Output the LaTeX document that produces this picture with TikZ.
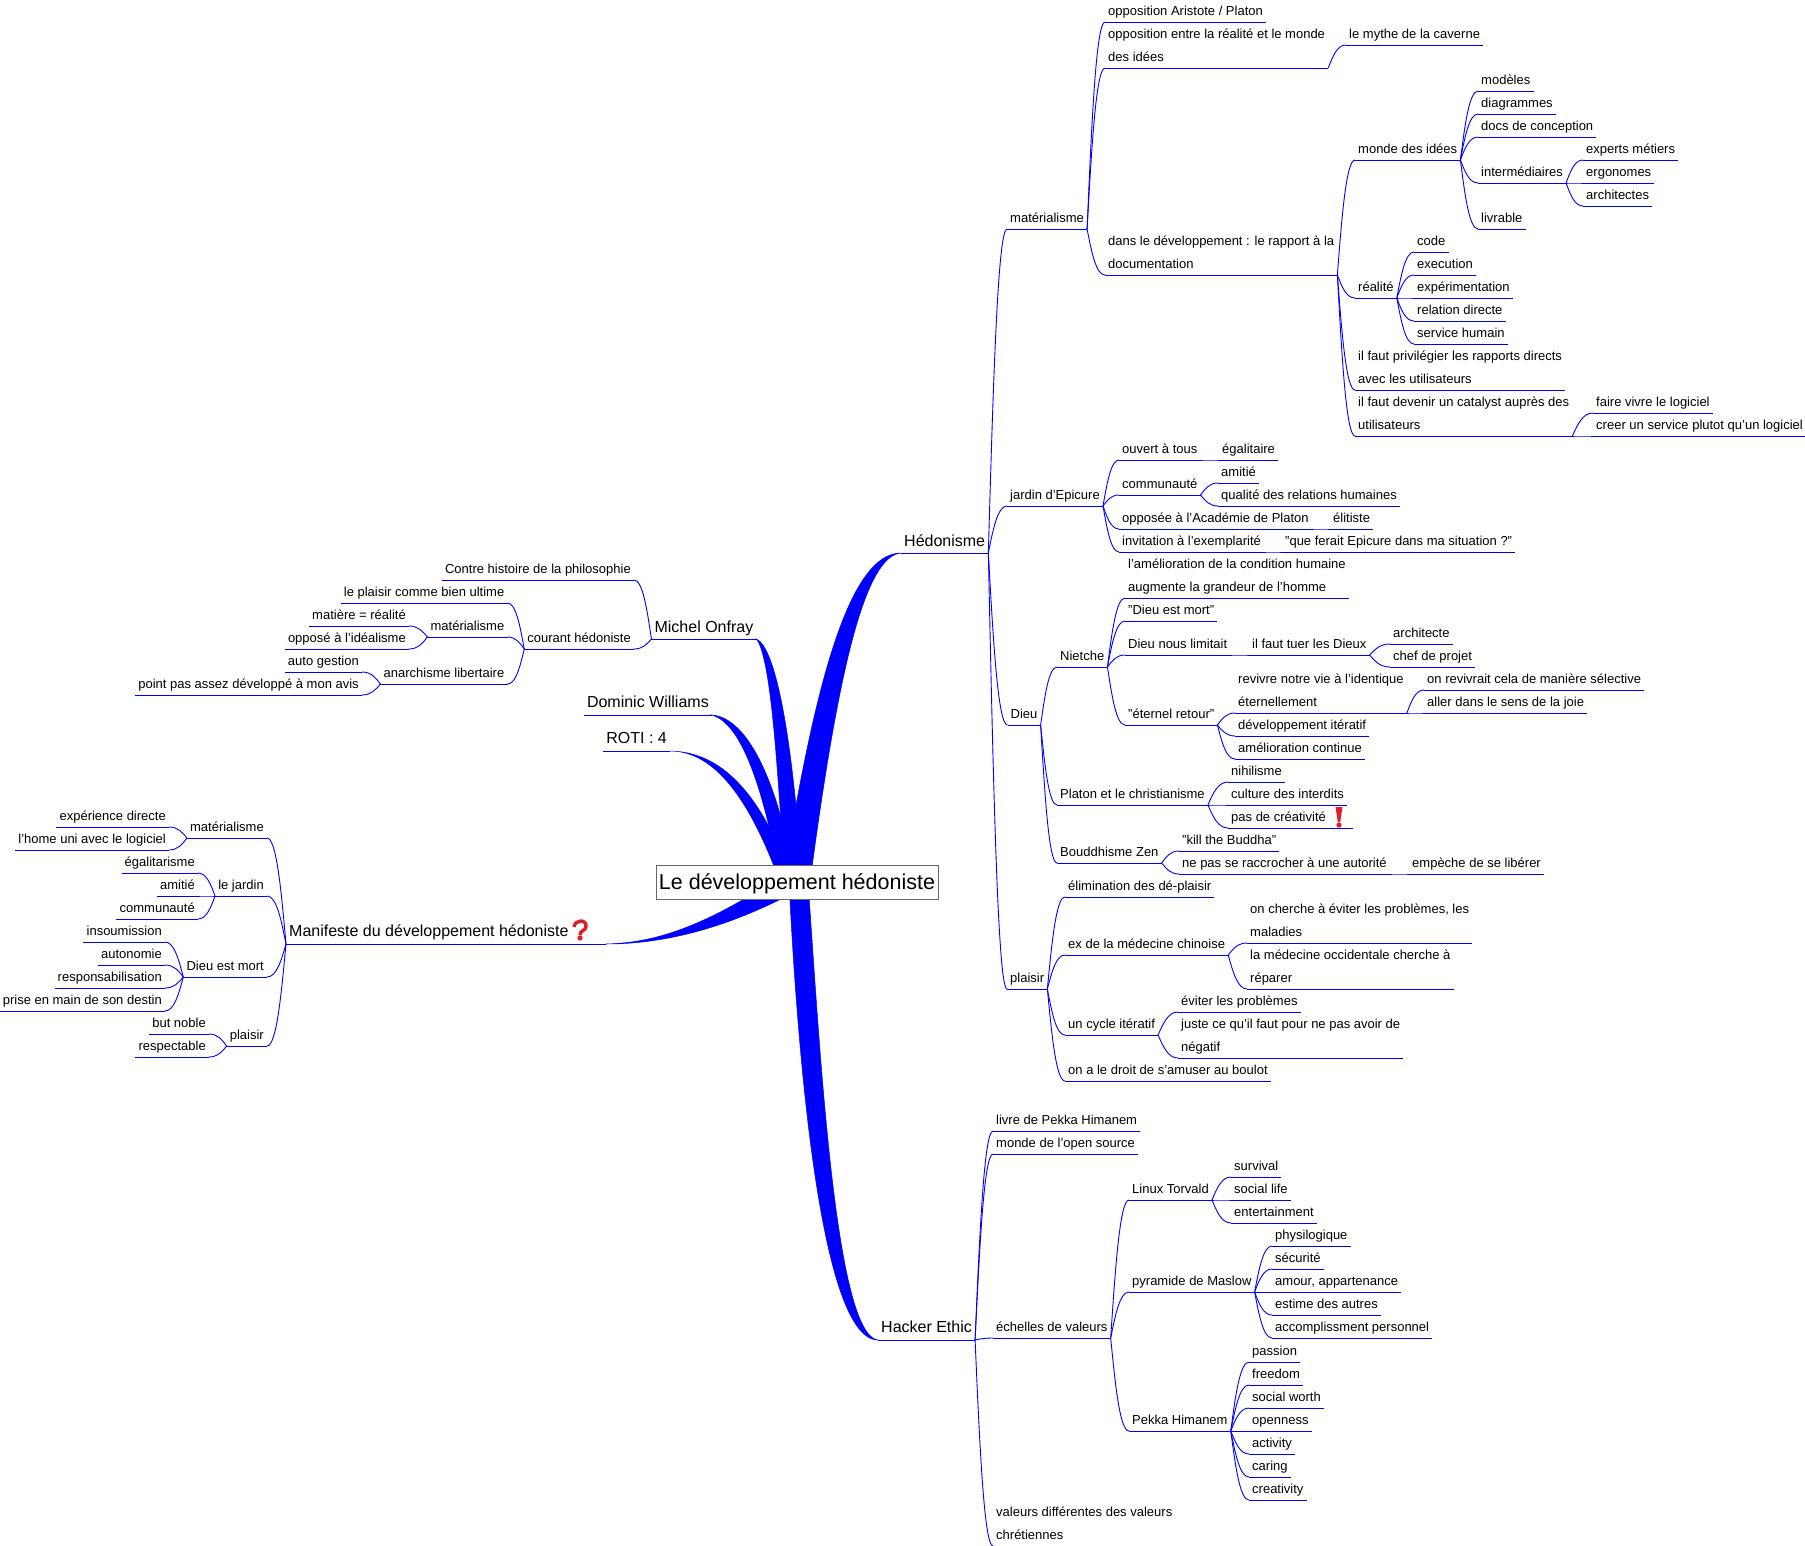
\documentclass[tikz,border=0pt]{standalone}
\usepackage{fontspec}
\setmainfont{Liberation Sans}
\usetikzlibrary{calc,backgrounds}

\definecolor{linkblue}{RGB}{0,0,255}
\definecolor{iconred}{RGB}{222,30,40}
\newcommand{\twolines}[2]{\vbox{\hbox{#1}\hbox{#2}}}

\tikzset{
  link/.style={draw=linkblue, line width=0.9pt},
  fork/.style={to path={let \p1=(\tikztostart), \p2=(\tikztotarget) in
    .. controls (0.75*\x1+0.25*\x2, 0.5*\y1+0.5*\y2) and (0.5*\x1+0.5*\x2, \y2) .. (\p2)}},
  topic/.style={anchor=south west, inner xsep=3pt, inner ysep=0pt, text depth=6pt,
    font=\fontsize{13}{23}\selectfont,
    append after command={(\tikzlastnode.south west) edge[link] (\tikzlastnode.south east)}},
  ltopic/.style={topic, anchor=south east},
  major/.style={text depth=7pt, font=\fontsize{16}{23}\selectfont},
  fatlink/.style={fill=linkblue, draw=linkblue, line width=0.5pt},
  iconmark/.style={fill=iconred}
}

\begin{document}
\begin{tikzpicture}[x=1pt, y=-1pt]
  \useasboundingbox (0,0) rectangle (1805,1546);

  % central topic
  \node[draw=black!60, fill=white, line width=1pt, inner sep=0pt, minimum width=282pt, minimum height=34pt,
        text height=17pt, text depth=2pt, font=\fontsize{21.5}{24}\selectfont] (root) at (797,882) {Le développement hédoniste};

  % Hedonisme
  \node[topic, major, text depth=6pt] (hed) at (901,553) {Hédonisme};
  \node[topic] (mat) at (1007,229) {matérialisme};
  \node[topic] (jar) at (1007,506) {jardin d'Epicure};
  \node[topic] (dieu) at (1007.5,725) {Dieu};
  \node[topic] (pla) at (1007,989) {plaisir};

  % materialisme
  \node[topic] (matOpp) at (1105,22) {opposition Aristote / Platon};
  \node[topic] (matEnt) at (1105,68) {\twolines{opposition entre la réalité et le monde}{des idées}};
  \node[topic] (mythe) at (1346,45) {le mythe de la caverne};
  \node[topic] (matDev) at (1105,275) {\twolines{dans le développement : le rapport à la}{documentation}};
  \node[topic] (monde) at (1355,160) {monde des idées};
  \node[topic] (modeles) at (1478,91) {modèles};
  \node[topic] (diagr) at (1478,114) {diagrammes};
  \node[topic] (docs) at (1478,137) {docs de conception};
  \node[topic] (interm) at (1478,183) {intermédiaires};
  \node[topic] (experts) at (1583,160) {experts métiers};
  \node[topic] (ergo) at (1583,183) {ergonomes};
  \node[topic] (archi) at (1583,206) {architectes};
  \node[topic] (livrable) at (1478,229) {livrable};
  \node[topic] (real) at (1355,298) {réalité};
  \node[topic] (code) at (1414,252) {code};
  \node[topic] (exec) at (1414,275) {execution};
  \node[topic] (expe) at (1414,298) {expérimentation};
  \node[topic] (relat) at (1414,321) {relation directe};
  \node[topic] (serv) at (1414,344) {service humain};
  \node[topic] (priv) at (1355,390) {\twolines{il faut privilégier les rapports directs}{avec les utilisateurs}};
  \node[topic] (cata) at (1355,436) {\twolines{il faut devenir un catalyst auprès des}{utilisateurs}};
  \node[topic] (vivre) at (1593,413) {faire vivre le logiciel};
  \node[topic] (creer) at (1593,436) {creer un service plutot qu'un logiciel};

  % jardin d'Epicure
  \node[topic] (ouvert) at (1119,460) {ouvert à tous};
  \node[topic] (egal) at (1219,460) {égalitaire};
  \node[topic] (commu) at (1119,495) {communauté};
  \node[topic] (amitie) at (1218,483) {amitié};
  \node[topic] (qual) at (1218,506) {qualité des relations humaines};
  \node[topic] (oppos) at (1119,529) {opposée à l'Académie de Platon};
  \node[topic] (elit) at (1330,529) {élitiste};
  \node[topic] (invit) at (1119,552) {invitation à l'exemplarité};
  \node[topic] (ferait) at (1282,552) {"que ferait Epicure dans ma situation ?"};

  % Dieu
  \node[topic] (niet) at (1057,667) {Nietche};
  \node[topic] (amel) at (1125,598) {\twolines{l'amélioration de la condition humaine}{augmente la grandeur de l'homme}};
  \node[topic] (mort) at (1125,621) {"Dieu est mort"};
  \node[topic] (limit) at (1125,655) {Dieu nous limitait};
  \node[topic] (tuer) at (1249,655) {il faut tuer les Dieux};
  \node[topic] (archt) at (1390,644) {architecte};
  \node[topic] (chef) at (1390,667) {chef de projet};
  \node[topic] (etern) at (1125,725) {"éternel retour"};
  \node[topic] (revivre) at (1235,713) {\twolines{revivre notre vie à l'identique}{éternellement}};
  \node[topic] (selec) at (1424,690) {on revivrait cela de manière sélective};
  \node[topic] (aller) at (1424,713) {aller dans le sens de la joie};
  \node[topic] (iter) at (1235,736) {développement itératif};
  \node[topic] (contin) at (1235,759) {amélioration continue};
  \node[topic] (plat) at (1057,805) {Platon et le christianisme};
  \node[topic] (nihil) at (1228,782) {nihilisme};
  \node[topic] (cult) at (1228,805) {culture des interdits};
  \node[topic] (crea) at (1228,828) {pas de créativité\hspace*{24pt}};
  \node[topic] (boud) at (1057,863) {Bouddhisme Zen};
  \node[topic] (kill) at (1179,851) {"kill the Buddha"};
  \node[topic] (racc) at (1179,874) {ne pas se raccrocher à une autorité};
  \node[topic] (empe) at (1409,874) {empèche de se libérer};

  % plaisir
  \node[topic] (elim) at (1065,897) {élimination des dé-plaisir};
  \node[topic] (chin) at (1065,955) {ex de la médecine chinoise};
  \node[topic] (cherche) at (1247,943) {\twolines{on cherche à éviter les problèmes, les}{maladies}};
  \node[topic] (occi) at (1247,989) {\twolines{la médecine occidentale cherche à}{réparer}};
  \node[topic] (cycle) at (1065,1035) {un cycle itératif};
  \node[topic] (eviter) at (1178,1012) {éviter les problèmes};
  \node[topic] (juste) at (1178,1058) {\twolines{juste ce qu'il faut pour ne pas avoir de}{négatif}};
  \node[topic] (droit) at (1065,1081) {on a le droit de s'amuser au boulot};

  % Hacker Ethic
  \node[topic, major] (hack) at (878,1340) {Hacker Ethic};
  \node[topic] (livre) at (993,1131) {livre de Pekka Himanem};
  \node[topic] (open) at (993,1154) {monde de l'open source};
  \node[topic] (ech) at (993,1338) {échelles de valeurs};
  \node[topic] (val) at (993,1546) {\twolines{valeurs différentes des valeurs}{chrétiennes}};
  \node[topic] (linux) at (1129,1200) {Linux Torvald};
  \node[topic] (surv) at (1231,1177) {survival};
  \node[topic] (social) at (1231,1200) {social life};
  \node[topic] (enter) at (1231,1223) {entertainment};
  \node[topic] (pyr) at (1129,1292) {pyramide de Maslow};
  \node[topic] (physi) at (1272,1246) {physilogique};
  \node[topic] (secu) at (1272,1269) {sécurité};
  \node[topic] (amour) at (1272,1292) {amour, appartenance};
  \node[topic] (estime) at (1272,1315) {estime des autres};
  \node[topic] (accom) at (1272,1338) {accomplissment personnel};
  \node[topic] (pekka) at (1129,1431) {Pekka Himanem};
  \node[topic] (pass) at (1249,1362) {passion};
  \node[topic] (free) at (1249,1385) {freedom};
  \node[topic] (worth) at (1249,1408) {social worth};
  \node[topic] (openn) at (1249,1431) {openness};
  \node[topic] (activ) at (1249,1454) {activity};
  \node[topic] (caring) at (1249,1477) {caring};
  \node[topic] (creat) at (1249,1500) {creativity};

  % Michel Onfray
  \node[ltopic, major, text depth=6pt] (onfray) at (756.5,639) {Michel Onfray};
  \node[ltopic] (contre) at (634,580) {Contre histoire de la philosophie};
  \node[ltopic] (courant) at (634,649) {courant hédoniste};
  \node[ltopic] (ultime) at (507.5,603) {le plaisir comme bien ultime};
  \node[ltopic] (matB) at (507.5,637) {matérialisme};
  \node[ltopic] (matiere) at (409,626) {matière = réalité};
  \node[ltopic] (ideal) at (409,649) {opposé à l'idéalisme};
  \node[ltopic] (anar) at (507.5,684) {anarchisme libertaire};
  \node[ltopic] (auto) at (362,672) {auto gestion};
  \node[ltopic] (point) at (362,695) {point pas assez développé à mon avis};

  \node[ltopic, major] (domin) at (712,715) {Dominic Williams};
  \node[ltopic, major] (roti) at (670,751) {ROTI : 4};

  % Manifeste
  \node[topic, major] (manif) at (286,944) {Manifeste du développement hédoniste\hspace*{34pt}};
  \node[ltopic] (matC) at (267,838) {matérialisme};
  \node[ltopic] (direc) at (169,827) {expérience directe};
  \node[ltopic] (home) at (169,850) {l'home uni avec le logiciel};
  \node[ltopic] (jardC) at (267,896) {le jardin};
  \node[ltopic] (egalC) at (198,873) {égalitarisme};
  \node[ltopic] (amiC) at (198,896) {amitié};
  \node[ltopic] (comC) at (198,919) {communauté};
  \node[ltopic] (mortC) at (267,977) {Dieu est mort};
  \node[ltopic] (insou) at (165,942) {insoumission};
  \node[ltopic] (auton) at (165,965) {autonomie};
  \node[ltopic] (respo) at (165,988) {responsabilisation};
  \node[ltopic] (prise) at (165,1011) {prise en main de son destin};
  \node[ltopic] (plaC) at (267,1046) {plaisir};
  \node[ltopic] (noble) at (209,1034) {but noble};
  \node[ltopic] (respe) at (209,1057) {respectable};

  % connectors to the right
  \foreach \a/\b in {hed/mat,hed/jar,hed/dieu,hed/pla,
      mat/matOpp,mat/matEnt,matEnt/mythe,mat/matDev,matDev/monde,matDev/real,matDev/priv,matDev/cata,
      monde/modeles,monde/diagr,monde/docs,monde/interm,monde/livrable,
      interm/experts,interm/ergo,interm/archi,
      real/code,real/exec,real/expe,real/relat,real/serv,cata/vivre,cata/creer,
      jar/ouvert,ouvert/egal,jar/commu,commu/amitie,commu/qual,jar/oppos,oppos/elit,jar/invit,invit/ferait,
      dieu/niet,dieu/plat,dieu/boud,niet/amel,niet/mort,niet/limit,limit/tuer,tuer/archt,tuer/chef,
      niet/etern,etern/revivre,revivre/selec,revivre/aller,etern/iter,etern/contin,
      plat/nihil,plat/cult,plat/crea,boud/kill,boud/racc,racc/empe,
      pla/elim,pla/chin,chin/cherche,chin/occi,pla/cycle,cycle/eviter,cycle/juste,pla/droit,
      hack/livre,hack/open,hack/ech,hack/val,ech/linux,ech/pyr,ech/pekka,
      linux/surv,linux/social,linux/enter,
      pyr/physi,pyr/secu,pyr/amour,pyr/estime,pyr/accom,
      pekka/pass,pekka/free,pekka/worth,pekka/openn,pekka/activ,pekka/caring,pekka/creat}
    \draw[link] (\a.south east) to[fork] (\b.south west);

  % connectors to the left
  \foreach \a/\b in {onfray/contre,onfray/courant,courant/ultime,courant/matB,courant/anar,
      matB/matiere,matB/ideal,anar/auto,anar/point,
      manif/matC,manif/jardC,manif/mortC,manif/plaC,
      matC/direc,matC/home,jardC/egalC,jardC/amiC,jardC/comC,
      mortC/insou,mortC/auton,mortC/respo,mortC/prise,plaC/noble,plaC/respe}
    \draw[link] (\a.south west) to[fork] (\b.south east);

  % icons
  \fill[iconmark] (1335.5,807) -- (1342.5,807) -- (1340.2,822) -- (1337.8,822) -- cycle;
  \fill[iconmark] (1339,825) circle (2.6pt);
  \draw[iconred, line width=3.4pt] (574,927) .. controls (575,919) and (587,919) .. (586,927)
    .. controls (585.5,931) and (580,930) .. (580,935);
  \fill[iconmark] (580,938) circle (2.6pt);

  % thick links from the root
  \begin{scope}[on background layer]
    \fill[fatlink] ([xshift=-14pt]root.center) .. controls (815,680) and (850,553) .. (hed.south west)
      .. controls (865,556) and (838,670) .. ([xshift=13pt]root.center) -- cycle;
    \fill[fatlink] ([xshift=-12pt]root.center) .. controls (778,780) and (772,660) .. (onfray.south east)
      .. controls (776,648) and (793,740) .. ([xshift=5pt]root.center) -- cycle;
    \fill[fatlink] ([xshift=-16pt]root.center) .. controls (765,800) and (745,725) .. (domin.south east)
      .. controls (750,718) and (780,790) .. ([xshift=-2pt]root.center) -- cycle;
    \fill[fatlink] ([xshift=-17pt]root.center) .. controls (750,800) and (715,751) .. (roti.south east)
      .. controls (720,752) and (760,790) .. ([xshift=-4pt]root.center) -- cycle;
    \fill[fatlink] ([xshift=-10pt,yshift=-14pt]root.center) .. controls (730,925) and (670,944) .. (manif.south east)
      .. controls (660,943) and (710,922) .. ([xshift=-22pt,yshift=2pt]root.center) -- cycle;
    \fill[fatlink] ([xshift=-8pt]root.center) .. controls (795,1000) and (815,1340) .. (hack.south west)
      .. controls (835,1335) and (820,1050) .. ([xshift=11pt]root.center) -- cycle;
  \end{scope}
\end{tikzpicture}
\end{document}
